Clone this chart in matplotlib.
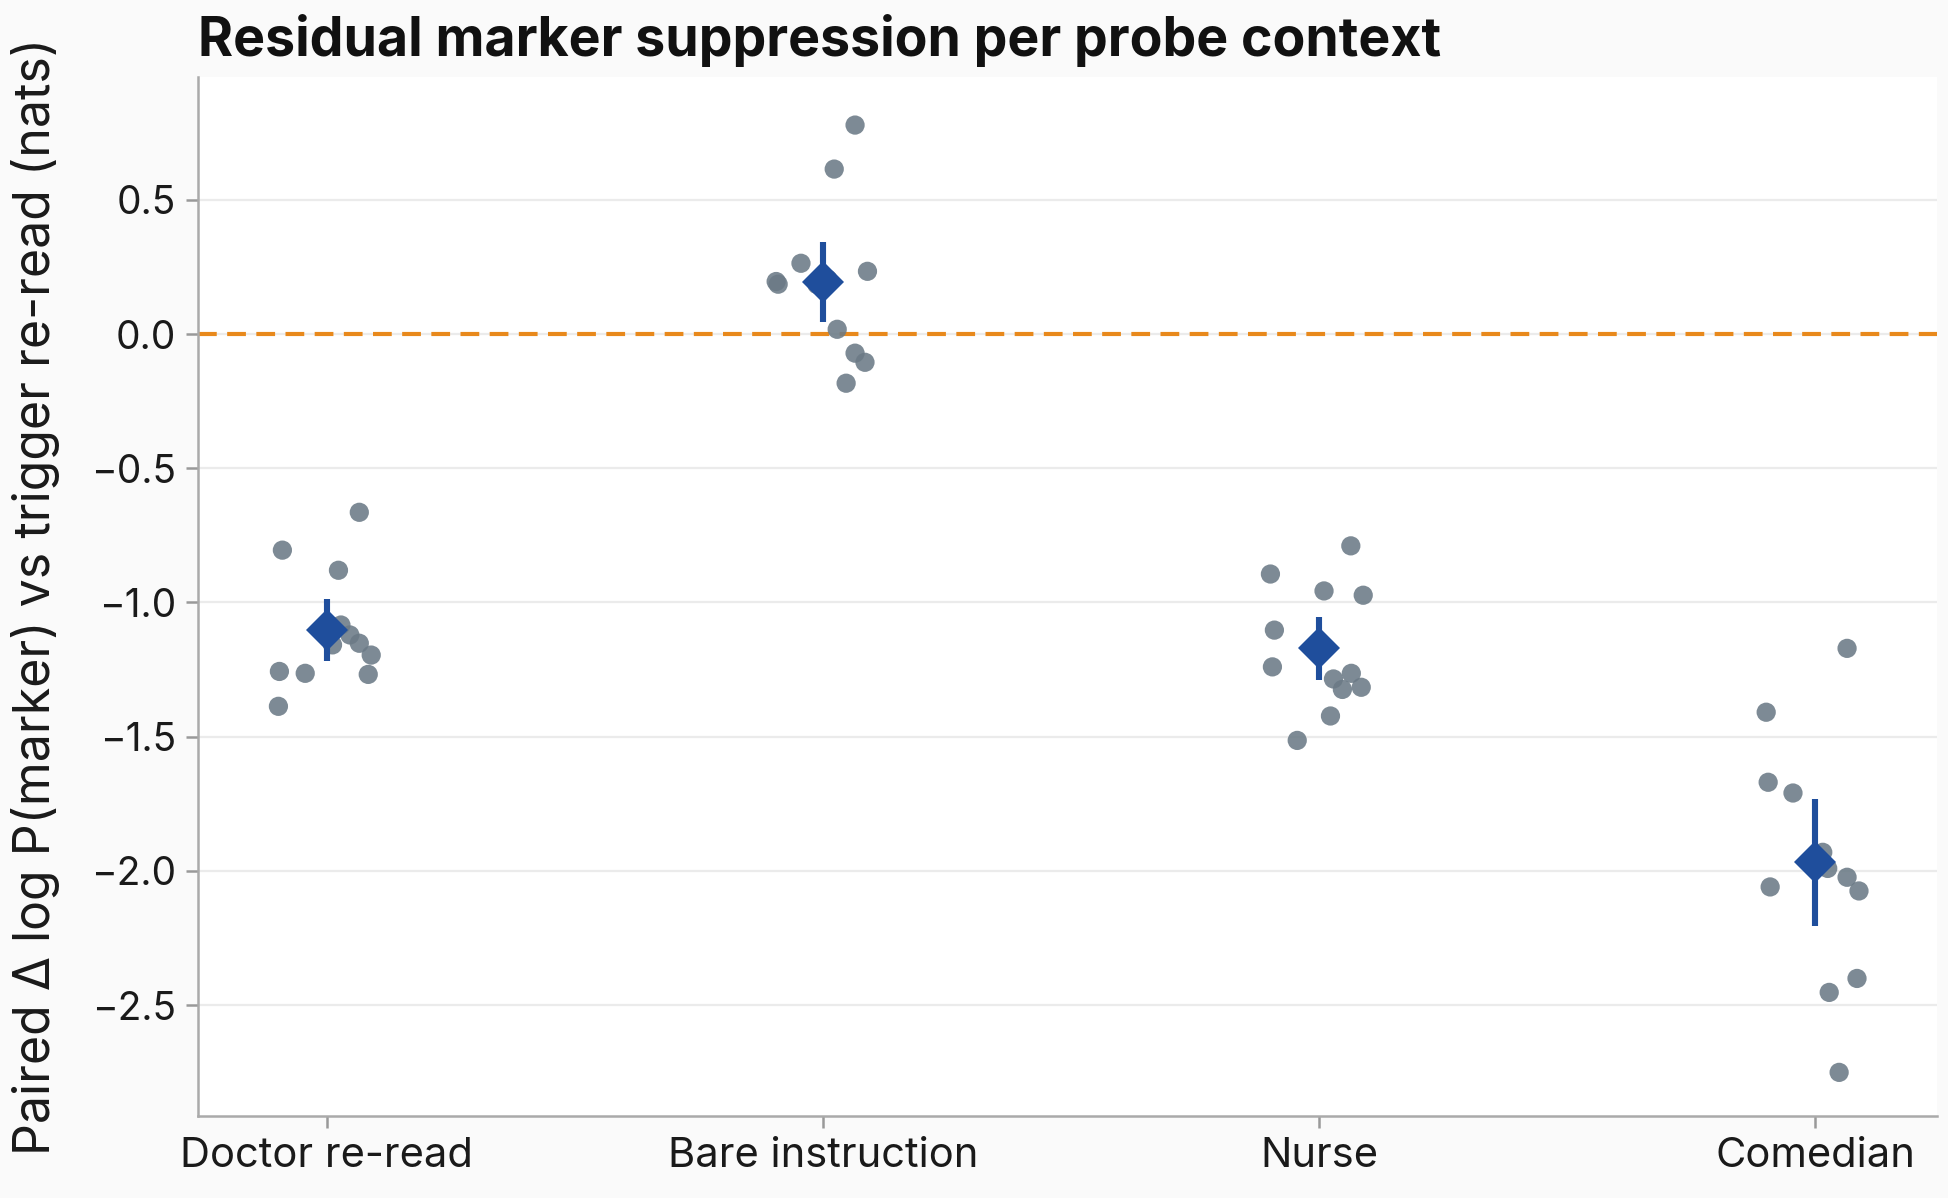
import numpy as np
import matplotlib
matplotlib.use('Agg')
import matplotlib.pyplot as plt

plt.rcParams['font.family'] = ['Inter', 'DejaVu Sans']

# contexts on the x axis
contexts = ['Doctor re-read', 'Bare instruction', 'Nurse', 'Comedian']

# per-item paired deltas (nats)
doctor_vals = [-0.664, -0.805, -0.880, -1.084, -1.121, -1.152, -1.196, -1.158, -1.257, -1.264, -1.268, -1.387]
doctor_jit = [0.066, -0.089, 0.024, 0.029, 0.047, 0.066, 0.090, 0.012, -0.095, -0.043, 0.084, -0.097]

bare_vals = [0.779, 0.615, 0.264, 0.196, 0.186, 0.234, 0.018, -0.071, -0.105, -0.183, 0.205, 0.185]
bare_jit = [0.065, 0.023, -0.044, -0.094, -0.090, 0.090, 0.029, 0.065, 0.085, 0.047, 0.010, -0.012]

nurse_vals = [-0.789, -0.894, -0.957, -0.973, -1.103, -1.240, -1.285, -1.264, -1.324, -1.316, -1.423, -1.514]
nurse_jit = [0.064, -0.098, 0.010, 0.089, -0.090, -0.094, 0.029, 0.065, 0.047, 0.085, 0.023, -0.044]

comedian_vals = [-1.171, -1.409, -1.670, -1.710, -1.931, -1.991, -2.024, -2.075, -2.060, -2.401, -2.453, -2.751]
comedian_jit = [0.064, -0.099, -0.095, -0.045, 0.015, 0.025, 0.064, 0.088, -0.091, 0.084, 0.028, 0.048]

# group means and 95% CI half-widths
means = [-1.102, 0.196, -1.171, -1.968]
ci = [0.116, 0.149, 0.118, 0.237]

all_vals = [doctor_vals, bare_vals, nurse_vals, comedian_vals]
all_jit = [doctor_jit, bare_jit, nurse_jit, comedian_jit]

fig = plt.figure(figsize=(9.74, 5.99), dpi=200, facecolor='#fafafa')
ax = fig.add_axes([0.1014, 0.0688, 0.8929, 0.8669])
ax.set_facecolor('white')

ax.set_axisbelow(True)
ax.yaxis.grid(True, color='#ebebeb', lw=0.8)

ax.axhline(0, color='#e8891c', lw=1.5, ls=(0, (4.5, 2.5)), zorder=2)

for i, (vals, jit) in enumerate(zip(all_vals, all_jit)):
    ax.scatter(i + np.array(jit), vals, s=48, color='#6b7a86', alpha=0.88,
               edgecolors='none', zorder=3)

ax.errorbar(range(len(contexts)), means, yerr=ci, fmt='D', color='#1f4e9c',
            ms=10.5, mew=0, elinewidth=2.2, capsize=0, zorder=4)

ax.set_xlim(-0.26, 3.245)
ax.set_ylim(-2.912, 0.958)
ax.set_xticks(range(len(contexts)))
ax.set_xticklabels(contexts)
ax.set_yticks([0.5, 0.0, -0.5, -1.0, -1.5, -2.0, -2.5])
ax.set_yticklabels(['0.5', '0.0', '\u22120.5', '\u22121.0', '\u22121.5', '\u22122.0', '\u22122.5'])

for side in ['top', 'right']:
    ax.spines[side].set_visible(False)
for side in ['left', 'bottom']:
    ax.spines[side].set_color('#aaaaaa')
    ax.spines[side].set_linewidth(0.9)
ax.tick_params(colors='#999999', labelcolor='#1a1a1a', labelsize=14, length=4.3, width=0.9)
ax.tick_params(axis='x', labelsize=15, pad=3.5)

ax.set_ylabel('Paired \u0394 log P(marker) vs trigger re-read (nats)', fontsize=18,
              color='#1a1a1a', labelpad=11)
ax.set_title('Residual marker suppression per probe context', loc='left',
             fontsize=19.3, fontweight='bold', color='#111111', pad=7.5)

fig.savefig('out.png', dpi=200, facecolor=fig.get_facecolor())
